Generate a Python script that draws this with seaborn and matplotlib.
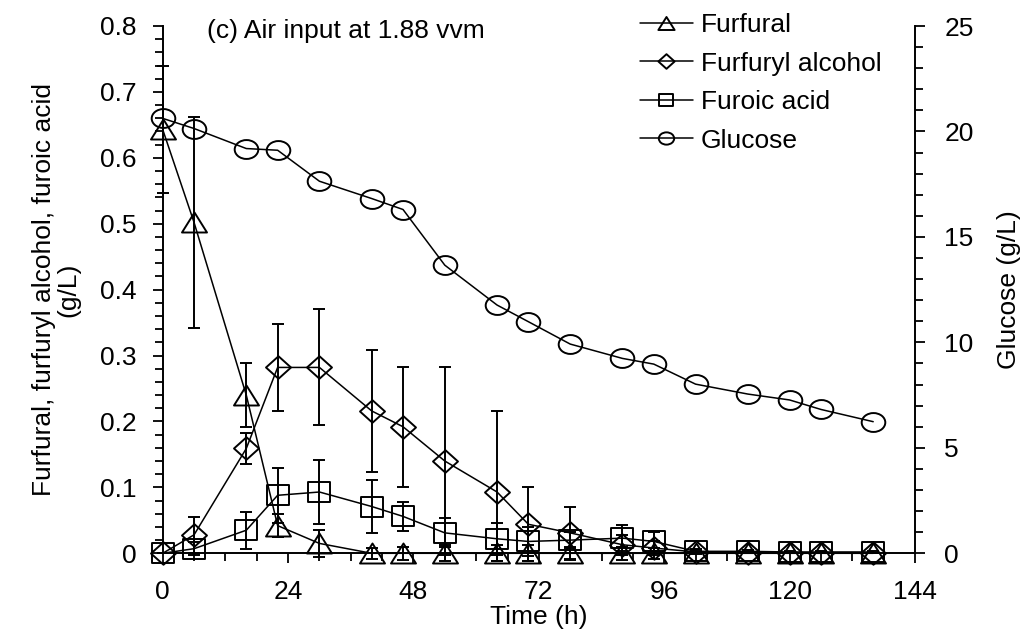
import numpy as np
import matplotlib
matplotlib.use("Agg")
import matplotlib.pyplot as plt
from matplotlib.path import Path
from matplotlib.transforms import Affine2D
from matplotlib.ticker import MultipleLocator, FuncFormatter
import seaborn as sns

# ---------------- data ----------------
times = [0, 6, 16, 22, 30, 40, 46, 54, 64, 70, 78, 88, 94, 102, 112, 120, 126, 136]

furfural = [0.643, 0.502, 0.240, 0.042, 0.015, 0, 0, 0, 0, 0, 0, 0, 0, 0, 0, 0, 0, 0]
furfural_err = [0.097, 0.160, 0.048, 0.018, 0.020, 0.008, 0.010, 0.012, 0.012, 0.012,
                0.010, 0.010, 0.008, 0, 0, 0, 0, 0]

furfuryl_alcohol = [0, 0.028, 0.159, 0.282, 0.282, 0.216, 0.192, 0.140, 0.093, 0.044,
                    0.031, 0.013, 0.008, 0.002, 0.001, 0.001, 0.001, 0.001]
furfuryl_alcohol_err = [0, 0.027, 0.023, 0.066, 0.088, 0.093, 0.091, 0.142, 0.123, 0.056,
                        0.040, 0.015, 0.010, 0.003, 0, 0, 0, 0]

furoic_acid = [0, 0.007, 0.035, 0.088, 0.093, 0.071, 0.056, 0.031, 0.022, 0.018,
               0.020, 0.023, 0.018, 0.003, 0.003, 0.002, 0.002, 0.002]
furoic_acid_err = [0, 0.010, 0.028, 0.042, 0.049, 0.040, 0.022, 0.022, 0.024, 0.022,
                   0.012, 0.020, 0.015, 0.003, 0.002, 0.002, 0.002, 0.002]

glucose = [20.62, 20.14, 19.19, 19.11, 17.64, 16.82, 16.30, 13.66, 11.77, 10.98,
           9.92, 9.24, 8.97, 8.02, 7.55, 7.27, 6.82, 6.24]

x_ticks = [0, 24, 48, 72, 96, 120, 144]
annotation = "(c) Air input at 1.88 vvm"

# ---------------- style ----------------
sns.set_theme(style="ticks")
plt.rcParams["font.family"] = ["Liberation Sans", "DejaVu Sans"]
FS = 19
plt.rcParams["font.size"] = FS

# horizontally stretched open markers (the reference is slightly stretched)
def stretched(verts, closed=True):
    codes = [Path.MOVETO] + [Path.LINETO] * (len(verts) - 1)
    if closed:
        verts = verts + [verts[0]]
        codes = codes + [Path.CLOSEPOLY]
    return Path(verts, codes)

circle_m = Path.unit_circle().transformed(Affine2D().scale(1.0, 0.8))
tri_m = stretched([(0, 0.8), (-1, -0.8), (1, -0.8)])
sq_m = stretched([(-1, -0.86), (1, -0.86), (1, 0.86), (-1, 0.86)])
dia_m = stretched([(0, 0.9), (1, 0), (0, -0.9), (-1, 0)])

fig = plt.figure(figsize=(10.24, 6.4), dpi=100)
L, R, B, T = 162.7, 915.0, 553.3, 26.0
ax = fig.add_axes([L / 1024, 1 - B / 640, (R - L) / 1024, (B - T) / 640])
ax2 = ax.twinx()

lw = 1.1
mew = 1.4
common = dict(color="black", linewidth=lw, markerfacecolor="none",
              markeredgecolor="black", markeredgewidth=mew, clip_on=False,
              estimator=None, sort=False)

series = [
    ("Furfural", furfural, furfural_err, tri_m, 18),
    ("Furfuryl alcohol", furfuryl_alcohol, furfuryl_alcohol_err, dia_m, 18),
    ("Furoic acid", furoic_acid, furoic_acid_err, sq_m, 16.5),
]
for name, vals, errs, mk, ms in series:
    v = np.array(vals)
    e = np.array(errs)
    lower = np.minimum(e, v + 0.012)
    ax.errorbar(times, vals, yerr=[lower, e], fmt="none", ecolor="black",
                elinewidth=1.4, capsize=4.5, capthick=1.4, clip_on=False, zorder=2)
    sns.lineplot(x=times, y=vals, ax=ax, marker=mk, markersize=ms, label=name,
                 zorder=3, **common)

sns.lineplot(x=times, y=glucose, ax=ax2, marker=circle_m, markersize=17,
             label="Glucose", zorder=3, **common)

# ---------------- axes ----------------
ax.set_xlim(0, 144)
ax.set_ylim(0, 0.8)
ax2.set_ylim(0, 25)
ax.set_xticks(x_ticks)
ax.xaxis.set_minor_locator(MultipleLocator(6))
ax.yaxis.set_major_locator(MultipleLocator(0.1))
ax.yaxis.set_minor_locator(MultipleLocator(0.02))
ax2.yaxis.set_major_locator(MultipleLocator(5))
ax2.yaxis.set_minor_locator(MultipleLocator(1))
ax.yaxis.set_major_formatter(FuncFormatter(lambda v, p: "0" if abs(v) < 1e-9 else f"{v:.1f}"))
ax2.yaxis.set_major_formatter(FuncFormatter(lambda v, p: f"{v:.0f}"))

for a in (ax, ax2):
    a.spines["top"].set_visible(False)
    for s in a.spines.values():
        s.set_linewidth(1.4)
        s.set_color("black")
    a.tick_params(which="both", direction="out", color="black", width=1.3,
                  labelsize=FS, labelcolor="black")
    a.tick_params(which="major", length=7)
    a.tick_params(which="minor", length=6)
ax.tick_params(axis="x", which="both", pad=12)
ax.tick_params(axis="y", which="both", pad=12)
ax2.tick_params(axis="y", which="both", pad=14)
ax2.spines["left"].set_visible(False)
ax2.spines["bottom"].set_visible(False)
ax.spines["right"].set_visible(False)

ax.set_xlabel("Time (h)", fontsize=FS, color="black")
ax.xaxis.set_label_coords(0.5, -0.098)
ax.set_ylabel("Furfural, furfuryl alcohol, furoic acid\n(g/L)", fontsize=FS,
              color="black", linespacing=1.0)
ax.yaxis.set_label_coords(-0.11, 0.5)
ax2.set_ylabel("Glucose (g/L)", fontsize=FS, color="black")
ax2.yaxis.set_label_coords(1.109, 0.5)

ax.text(0.059, 0.990, annotation, transform=ax.transAxes, ha="left", va="center",
        fontsize=FS, color="black")

h1, l1 = ax.get_legend_handles_labels()
h2, l2 = ax2.get_legend_handles_labels()
if ax.get_legend():
    ax.get_legend().remove()
if ax2.get_legend():
    ax2.get_legend().remove()
leg = ax2.legend(h1 + h2, l1 + l2, loc="upper left",
                 bbox_to_anchor=(640 / 1024, 1 - 13 / 640),
                 bbox_transform=fig.transFigure, frameon=False, fontsize=FS,
                 handlelength=2.0, handletextpad=0.3, labelspacing=0.55,
                 borderpad=0, borderaxespad=0, markerscale=0.65)
for t in leg.get_texts():
    t.set_color("black")

fig.savefig("out.png", dpi=100, facecolor="white")
